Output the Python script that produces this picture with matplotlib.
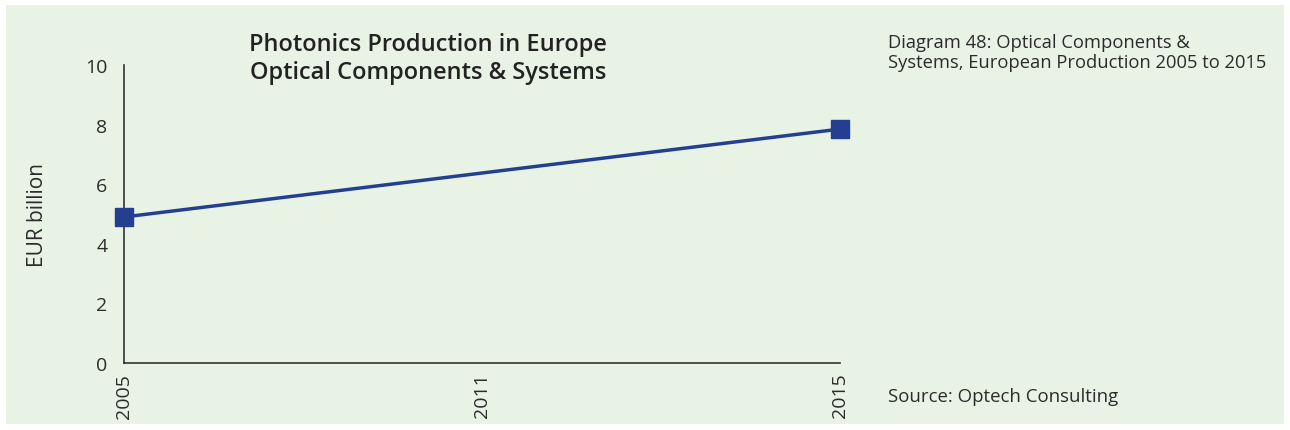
import matplotlib.pyplot as plt
from matplotlib.patches import Rectangle

years = ['2005', '2011', '2015']
data_years = ['2005', '2015']
values = [4.9, 7.85]

line_color = '#243f8f'
text_color = '#2b2b2b'
bg = '#e8f3e6'

plt.rcParams['font.family'] = ['Open Sans', 'DejaVu Sans']

fig = plt.figure(figsize=(12.9, 4.31), dpi=100, facecolor='white')
W, H = 1290, 431
fig.patches.append(Rectangle((6 / W, 1 - 425 / H), (1284 - 6) / W, (425 - 6) / H,
                             transform=fig.transFigure, facecolor=bg, edgecolor='none', zorder=-1))

ax = fig.add_axes([124 / W, 1 - 364 / H, (840 - 124) / W, (364 - 66) / H])
ax.set_facecolor('none')

x = [years.index(y) for y in data_years]
ax.plot(x, values, color=line_color, lw=2.5, marker='s', markersize=12.5,
        clip_on=False, zorder=3)

ax.set_xlim(0, len(years) - 1)
ax.set_ylim(0, 10)
ax.set_xticks(range(len(years)))
ax.set_xticklabels(years, rotation=90, fontsize=14, color=text_color)
ax.set_yticks(range(0, 11, 2))
ax.tick_params(axis='y', length=0, pad=12, labelsize=14, labelcolor=text_color)
ax.tick_params(axis='x', length=0, pad=7)
for s in ['top', 'right']:
    ax.spines[s].set_visible(False)
for s in ['left', 'bottom']:
    ax.spines[s].set_color('#333333')
    ax.spines[s].set_linewidth(1.2)

ax.set_ylabel('EUR billion', fontsize=15, color=text_color)
ax.yaxis.set_label_coords(-(124 - 48) / (840 - 124), 0.5)

fig.text(428 / W, 1 - 45 / H, 'Photonics Production in Europe', ha='center', va='center',
         fontsize=17, fontweight='semibold', color='#222222')
fig.text(428 / W, 1 - 73 / H, 'Optical Components & Systems', ha='center', va='center',
         fontsize=17, fontweight='semibold', color='#222222')

fig.text(888 / W, 1 - 53 / H, 'Diagram 48: Optical Components &\nSystems, European Production 2005 to 2015',
         ha='left', va='center', fontsize=13.2, color=text_color, linespacing=1.15)
fig.text(888 / W, 1 - 397 / H, 'Source: Optech Consulting', ha='left', va='center',
         fontsize=13.4, color=text_color)

fig.savefig('out.png', dpi=100, facecolor='white')
